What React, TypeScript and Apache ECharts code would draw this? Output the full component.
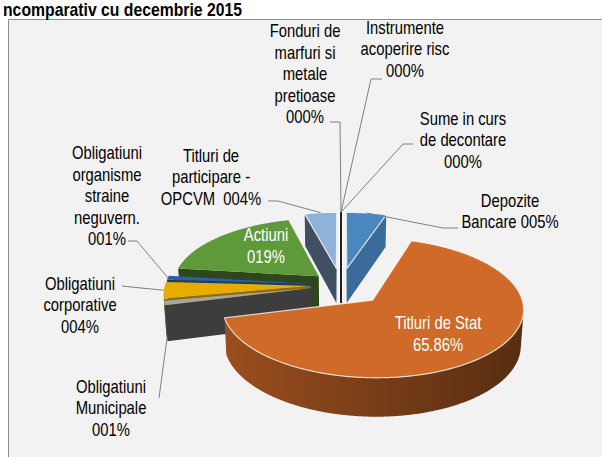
import React, { useEffect, useRef } from "react";
import * as echarts from "echarts";

// ---------- data ----------
const CATEGORIES = [
  "Depozite Bancare",
  "Titluri de Stat",
  "Obligatiuni Municipale",
  "Obligatiuni corporative",
  "Obligatiuni organisme straine neguvern.",
  "Actiuni",
  "Titluri de participare - OPCVM",
  "Fonduri de marfuri si metale pretioase",
  "Instrumente acoperire risc",
  "Sume in curs de decontare",
];
const SHARES = [5, 65.86, 1, 4, 1, 19, 4, 0, 0, 0];
const LABEL_TEXTS = [
  "Depozite\nBancare 005%",
  "Titluri de Stat\n65.86%",
  "Obligatiuni\nMunicipale\n001%",
  "Obligatiuni\ncorporative\n004%",
  "Obligatiuni\norganisme\nstraine\nneguvern.\n001%",
  "Actiuni\n019%",
  "Titluri de\nparticipare -\nOPCVM  004%",
  "Fonduri de\nmarfuri si\nmetale\npretioase\n000%",
  "Instrumente\nacoperire risc\n000%",
  "Sume in curs\nde decontare\n000%",
];
const TITLE_TEXT = "ncomparativ cu decembrie 2015";

// ---------- styles / layout ----------
const COLORS = ["#4a86c0", "#d06a28", "#a5a5a5", "#e6ad00", "#2e5fa6", "#5f9a3a", "#8fb1da", "#e07a30", "#1a1a1a", "#ffffff"];
const RADIAL_SHADE = [0.8, 0.5, 0.37, 0.62, 0.62, 0.46, 0.45, 1, 1, 1];
const WALL_SHADE: [number, number][] = [
  [0.7, 0.5], [0.74, 0.42], [0.45, 0.4], [0.66, 0.6], [0.6, 0.5], [0.5, 0.4], [0.6, 0.5], [1, 1], [1, 1], [1, 1],
];
const GLOW = [true, true, false, false, false, false, true, false, false, false];
const EXPLODE = [38, 45, 30, 30, 30, 30, 38, 38, 38, 38];
const LABEL_POS: [number, number][] = [
  [510, 211.5], [438, 334], [111, 408], [80, 305], [107, 196], [266, 246], [211, 177], [305, 74], [405, 49], [463, 140],
];
const LABEL_INSIDE = [false, true, false, false, false, true, false, false, false, false];
const LEADER_ELBOWS: ([number, number][] | null)[] = [
  [[458, 228], [443, 228]],
  null,
  [[159, 398]],
  [[122, 286], [131, 287]],
  [[128, 241], [137, 241]],
  null,
  [[268, 201], [278, 201]],
  [[330, 122], [340, 122]],
  [[382, 79], [371, 79]],
  [[413, 144], [403, 144]],
];
const ANCHOR_BOTTOM = [false, false, true, false, false, false, false, false, false, false];

const R = 146;
const H = 40;
const SIN_A = 0.45;
const COS_A = Math.sqrt(1 - SIN_A * SIN_A);
const DIST = 1200;
const CX = 341;
const CY = 285;
const CAM = [0, DIST * SIN_A, -DIST * COS_A];
const TAU = Math.PI * 2;
const FONT = '"Liberation Sans", Arial, sans-serif';
const NARROW = 0.8;

function project(x: number, y: number, z: number): [number, number] {
  const up = y * COS_A + z * SIN_A;
  const depth = z * COS_A - y * SIN_A;
  const f = DIST / (DIST + depth);
  return [CX + x * f, CY - up * f];
}

function shade(hex: string, k: number) {
  const n = parseInt(hex.slice(1), 16);
  const r = Math.round(((n >> 16) & 255) * k);
  const g = Math.round(((n >> 8) & 255) * k);
  const b = Math.round((n & 255) * k);
  return `rgb(${r},${g},${b})`;
}

const TOTAL = SHARES.reduce((a, b) => a + b, 0);
function startAngle(i: number) {
  let c = 0;
  for (let j = 0; j < i; j++) c += SHARES[j];
  return (c / TOTAL) * TAU;
}
function midAngle(i: number) {
  return startAngle(i) + ((SHARES[i] / TOTAL) * TAU) / 2;
}
const ORDER = SHARES.map((_, i) => i).sort((p, q) => {
  const dp = EXPLODE[p] * Math.cos(midAngle(p)) + (SHARES[p] > 0 ? R * 0.5 * Math.cos(midAngle(p)) : 999);
  const dq = EXPLODE[q] * Math.cos(midAngle(q)) + (SHARES[q] > 0 ? R * 0.5 * Math.cos(midAngle(q)) : 999);
  return dq - dp;
});

function renderItem(params: any, api: any) {
  const i = params.dataIndex;
  const v = api.value(0) as number;
  const a0 = startAngle(i);
  const a1 = a0 + (v / TOTAL) * TAU;
  const mid = (a0 + a1) / 2;
  const e = EXPLODE[i];
  const ex = e * Math.sin(mid);
  const ez = e * Math.cos(mid);
  const rim = (t: number, y: number) => project(ex + R * Math.sin(t), y, ez + R * Math.cos(t));
  const apex = (y: number) => project(ex, y, ez);
  const base = (ORDER.indexOf(i) + 1) * 10;
  const children: any[] = [];

  if (v > 0) {
    // radial cut faces
    const edges: [number, number][] = [[a0, -1], [a1, 1]];
    for (const [t, s] of edges) {
      const nx = s * Math.cos(t);
      const nz = -s * Math.sin(t);
      const px = ex + (R / 2) * Math.sin(t);
      const pz = ez + (R / 2) * Math.cos(t);
      const dot = nx * (CAM[0] - px) + nz * (CAM[2] - pz);
      if (dot > 0) {
        children.push({
          type: "polygon",
          z2: base + 1,
          shape: { points: [apex(0), rim(t, 0), rim(t, -H), apex(-H)] },
          style: { fill: shade(COLORS[i], RADIAL_SHADE[i]) },
        });
      }
    }
    // outer wall
    const n = Math.max(2, Math.ceil((a1 - a0) / 0.01));
    let run: number[] = [];
    const runs: number[][] = [];
    for (let k = 0; k <= n; k++) {
      const t = a0 + ((a1 - a0) * k) / n;
      const px = ex + R * Math.sin(t);
      const pz = ez + R * Math.cos(t);
      const dot = Math.sin(t) * (CAM[0] - px) + Math.cos(t) * (CAM[2] - pz);
      if (dot > 0) run.push(t);
      else if (run.length) {
        runs.push(run);
        run = [];
      }
    }
    if (run.length) runs.push(run);
    for (const r of runs) {
      if (r.length < 2) continue;
      const pts = r.map((t) => rim(t, 0)).concat(r.slice().reverse().map((t) => rim(t, -H)));
      children.push({
        type: "polygon",
        z2: base + 2,
        shape: { points: pts },
        style: {
          fill: {
            type: "linear",
            x: 0, y: 0, x2: 1, y2: 0,
            colorStops: [
              { offset: 0, color: shade(COLORS[i], WALL_SHADE[i][0]) },
              { offset: 1, color: shade(COLORS[i], WALL_SHADE[i][1]) },
            ],
          },
        },
      });
    }
    // top face
    const top: [number, number][] = [apex(0)];
    const m = Math.max(2, Math.ceil((a1 - a0) / 0.01));
    for (let k = 0; k <= m; k++) top.push(rim(a0 + ((a1 - a0) * k) / m, 0));
    children.push({
      type: "polygon",
      z2: base + 3,
      shape: { points: top },
      style: GLOW[i]
        ? { fill: COLORS[i], stroke: "rgba(255,255,255,0.75)", lineWidth: 1.2, lineJoin: "round" }
        : { fill: COLORS[i] },
    });
  } else {
    // zero-size slice: seen edge-on as a thin line
    const pts = [rim(a0, 0), apex(0), apex(-H)];
    children.push({
      type: "polyline",
      z2: 500,
      shape: { points: pts },
      style: { stroke: "#ffffff", lineWidth: 4, fill: null },
    });
    children.push({
      type: "polyline",
      z2: 501,
      shape: { points: pts },
      style: { stroke: "#1a1a1a", lineWidth: 1.5, fill: null },
    });
  }

  // leader line
  const elb = LEADER_ELBOWS[i];
  if (elb) {
    const anchor = ANCHOR_BOTTOM[i] ? rim(mid, -H) : rim(mid, 0);
    children.push({
      type: "polyline",
      z2: 900,
      shape: { points: [...elb, anchor] },
      style: { stroke: "#808080", lineWidth: 1, fill: null },
    });
  }
  // label
  children.push({
    type: "text",
    z2: 1000,
    x: LABEL_POS[i][0],
    y: LABEL_POS[i][1],
    scaleX: NARROW,
    style: {
      text: LABEL_TEXTS[i],
      fill: LABEL_INSIDE[i] ? "#ffffff" : "#000000",
      fontFamily: FONT,
      fontSize: 18.5,
      lineHeight: 21.5,
      align: "center",
      verticalAlign: "middle",
    },
  });

  return { type: "group", children };
}

export default function App() {
  const ref = useRef<HTMLDivElement>(null);
  useEffect(() => {
    if (!ref.current) return;
    const chart = echarts.init(ref.current, undefined, { renderer: "svg" });
    chart.setOption({
      animation: false,
      backgroundColor: "#ffffff",
      graphic: [
        {
          type: "rect",
          z: -10,
          silent: true,
          shape: { x: 8.5, y: 19.5, width: 700, height: 500 },
          style: { fill: "#f2f2f2", stroke: "#8c8c8c", lineWidth: 1 },
        },
        {
          type: "text",
          z: 10,
          silent: true,
          x: 3,
          y: 9.5,
          scaleX: 0.83,
          style: {
            text: TITLE_TEXT,
            fill: "#000000",
            fontFamily: FONT,
            fontWeight: "bold",
            fontSize: 19,
            align: "left",
            verticalAlign: "middle",
          },
        },
      ],
      series: [
        {
          type: "custom",
          coordinateSystem: "none",
          silent: true,
          data: SHARES.map((v, i) => ({ name: CATEGORIES[i], value: v })),
          renderItem,
        },
      ],
    });
    return () => chart.dispose();
  }, []);
  return (
    <div
      ref={ref}
      style={{ position: "fixed", left: 0, top: 0, width: 602, height: 457 }}
    />
  );
}
